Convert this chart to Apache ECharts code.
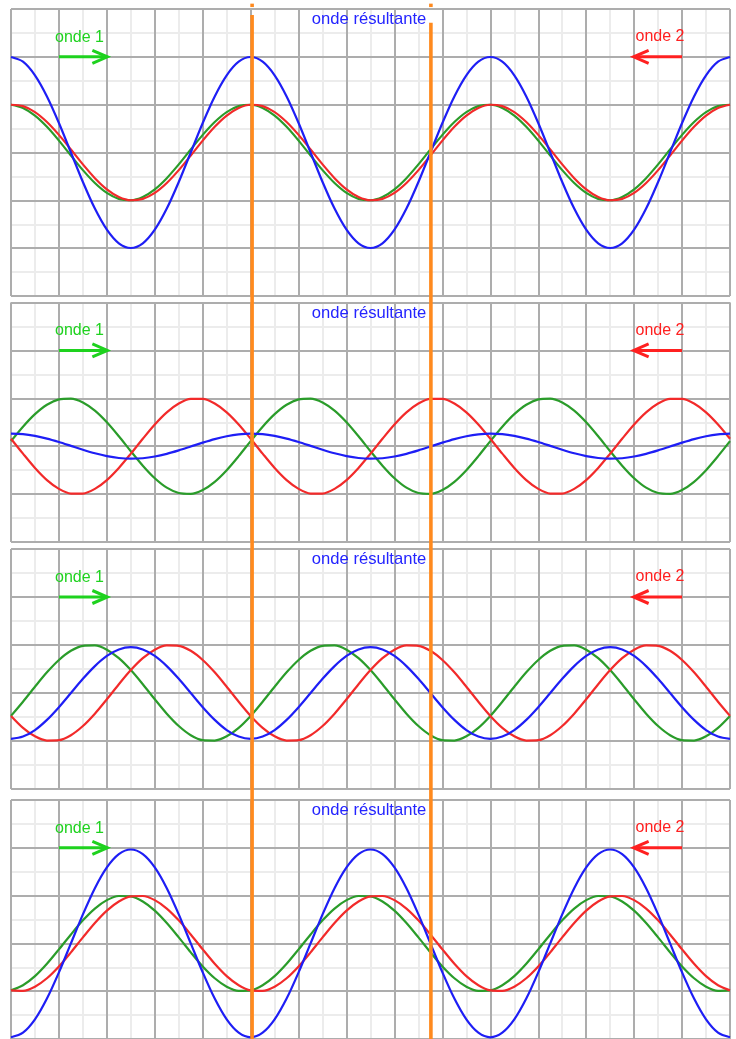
<!DOCTYPE html>
<html>
<head>
<meta charset="utf-8">
<script src="https://cdn.jsdelivr.net/npm/echarts@6/dist/echarts.min.js"></script>
<style>
  html, body { margin: 0; padding: 0; background: #ffffff; }
  #chart { width: 736px; height: 1039px; }
</style>
</head>
<body>
<div id="chart"></div>
<script>
// Abscissae of the sampled wave values, in grid squares (one square = one major cell).
const SAMPLE_X = [
  0, 0.25, 0.5, 0.75, 1, 1.25, 1.5, 1.75, 2, 2.25, 2.5, 2.75, 3, 3.25, 3.5, 3.75,
  4, 4.25, 4.5, 4.75, 5, 5.25, 5.5, 5.75, 6, 6.25, 6.5, 6.75, 7, 7.25, 7.5, 7.75,
  8, 8.25, 8.5, 8.75, 9, 9.25, 9.5, 9.75, 10, 10.25, 10.5, 10.75, 11, 11.25, 11.5, 11.75,
  12, 12.25, 12.5, 12.75, 13, 13.25, 13.5, 13.75, 14, 14.25, 14.5, 14.75, 15];

// Panel 1: the two waves nearly in phase -> large resultant.
const P1_GREEN = [
  0.998, 0.930, 0.770, 0.536, 0.249, -0.063, -0.368, -0.637, -0.844, -0.969,
  -0.998, -0.930, -0.770, -0.536, -0.249, 0.063, 0.368, 0.637, 0.844, 0.969,
  0.998, 0.930, 0.770, 0.536, 0.249, -0.063, -0.368, -0.637, -0.844, -0.969,
  -0.998, -0.930, -0.770, -0.536, -0.249, 0.063, 0.368, 0.637, 0.844, 0.969,
  0.998, 0.930, 0.770, 0.536, 0.249, -0.063, -0.368, -0.637, -0.844, -0.969,
  -0.998, -0.930, -0.770, -0.536, -0.249, 0.063, 0.368, 0.637, 0.844, 0.969, 0.998];
const P1_RED = [
  0.998, 0.969, 0.844, 0.637, 0.368, 0.063, -0.249, -0.536, -0.770, -0.930,
  -0.998, -0.969, -0.844, -0.637, -0.368, -0.063, 0.249, 0.536, 0.770, 0.930,
  0.998, 0.969, 0.844, 0.637, 0.368, 0.063, -0.249, -0.536, -0.770, -0.930,
  -0.998, -0.969, -0.844, -0.637, -0.368, -0.063, 0.249, 0.536, 0.770, 0.930,
  0.998, 0.969, 0.844, 0.637, 0.368, 0.063, -0.249, -0.536, -0.770, -0.930,
  -0.998, -0.969, -0.844, -0.637, -0.368, -0.063, 0.249, 0.536, 0.770, 0.930, 0.998];
const P1_BLUE = [
  1.996, 1.899, 1.614, 1.173, 0.617, 0, -0.617, -1.173, -1.614, -1.899,
  -1.996, -1.899, -1.614, -1.173, -0.617, 0, 0.617, 1.173, 1.614, 1.899,
  1.996, 1.899, 1.614, 1.173, 0.617, 0, -0.617, -1.173, -1.614, -1.899,
  -1.996, -1.899, -1.614, -1.173, -0.617, 0, 0.617, 1.173, 1.614, 1.899,
  1.996, 1.899, 1.614, 1.173, 0.617, 0, -0.617, -1.173, -1.614, -1.899,
  -1.996, -1.899, -1.614, -1.173, -0.617, 0, 0.617, 1.173, 1.614, 1.899, 1.996];

// Panel 2: waves in opposition -> almost flat resultant.
const P2_GREEN = [
  0.105, 0.407, 0.669, 0.866, 0.978, 0.995, 0.914, 0.743, 0.500, 0.208,
  -0.105, -0.407, -0.669, -0.866, -0.978, -0.995, -0.914, -0.743, -0.500, -0.208,
  0.105, 0.407, 0.669, 0.866, 0.978, 0.995, 0.914, 0.743, 0.500, 0.208,
  -0.105, -0.407, -0.669, -0.866, -0.978, -0.995, -0.914, -0.743, -0.500, -0.208,
  0.105, 0.407, 0.669, 0.866, 0.978, 0.995, 0.914, 0.743, 0.500, 0.208,
  -0.105, -0.407, -0.669, -0.866, -0.978, -0.995, -0.914, -0.743, -0.500, -0.208, 0.105];
const P2_RED = [
  0.156, -0.156, -0.454, -0.707, -0.891, -0.988, -0.988, -0.891, -0.707, -0.454,
  -0.156, 0.156, 0.454, 0.707, 0.891, 0.988, 0.988, 0.891, 0.707, 0.454,
  0.156, -0.156, -0.454, -0.707, -0.891, -0.988, -0.988, -0.891, -0.707, -0.454,
  -0.156, 0.156, 0.454, 0.707, 0.891, 0.988, 0.988, 0.891, 0.707, 0.454,
  0.156, -0.156, -0.454, -0.707, -0.891, -0.988, -0.988, -0.891, -0.707, -0.454,
  -0.156, 0.156, 0.454, 0.707, 0.891, 0.988, 0.988, 0.891, 0.707, 0.454, 0.156];
const P2_BLUE = [
  0.261, 0.251, 0.215, 0.159, 0.087, 0.007, -0.074, -0.148, -0.207, -0.246,
  -0.261, -0.251, -0.215, -0.159, -0.087, -0.007, 0.074, 0.148, 0.207, 0.246,
  0.261, 0.251, 0.215, 0.159, 0.087, 0.007, -0.074, -0.148, -0.207, -0.246,
  -0.261, -0.251, -0.215, -0.159, -0.087, -0.007, 0.074, 0.148, 0.207, 0.246,
  0.261, 0.251, 0.215, 0.159, 0.087, 0.007, -0.074, -0.148, -0.207, -0.246,
  -0.261, -0.251, -0.215, -0.159, -0.087, -0.007, 0.074, 0.148, 0.207, 0.246, 0.261];

// Panel 3: intermediate phase difference.
const P3_GREEN = [
  -0.477, -0.182, 0.131, 0.431, 0.688, 0.879, 0.983, 0.991, 0.903, 0.725,
  0.477, 0.182, -0.131, -0.431, -0.688, -0.879, -0.983, -0.991, -0.903, -0.725,
  -0.477, -0.182, 0.131, 0.431, 0.688, 0.879, 0.983, 0.991, 0.903, 0.725,
  0.477, 0.182, -0.131, -0.431, -0.688, -0.879, -0.983, -0.991, -0.903, -0.725,
  -0.477, -0.182, 0.131, 0.431, 0.688, 0.879, 0.983, 0.991, 0.903, 0.725,
  0.477, 0.182, -0.131, -0.431, -0.688, -0.879, -0.983, -0.991, -0.903, -0.725, -0.477];
const P3_RED = [
  -0.477, -0.725, -0.903, -0.991, -0.983, -0.879, -0.688, -0.431, -0.131, 0.182,
  0.477, 0.725, 0.903, 0.991, 0.983, 0.879, 0.688, 0.431, 0.131, -0.182,
  -0.477, -0.725, -0.903, -0.991, -0.983, -0.879, -0.688, -0.431, -0.131, 0.182,
  0.477, 0.725, 0.903, 0.991, 0.983, 0.879, 0.688, 0.431, 0.131, -0.182,
  -0.477, -0.725, -0.903, -0.991, -0.983, -0.879, -0.688, -0.431, -0.131, 0.182,
  0.477, 0.725, 0.903, 0.991, 0.983, 0.879, 0.688, 0.431, 0.131, -0.182, -0.477];
const P3_BLUE = [
  -0.954, -0.907, -0.772, -0.560, -0.295, 0, 0.295, 0.560, 0.772, 0.907,
  0.954, 0.907, 0.772, 0.560, 0.295, 0, -0.295, -0.560, -0.772, -0.907,
  -0.954, -0.907, -0.772, -0.560, -0.295, 0, 0.295, 0.560, 0.772, 0.907,
  0.954, 0.907, 0.772, 0.560, 0.295, 0, -0.295, -0.560, -0.772, -0.907,
  -0.954, -0.907, -0.772, -0.560, -0.295, 0, 0.295, 0.560, 0.772, 0.907,
  0.954, 0.907, 0.772, 0.560, 0.295, 0, -0.295, -0.560, -0.772, -0.907, -0.954];

// Panel 4: back in phase, half a period later.
const P4_GREEN = [
  -0.982, -0.876, -0.685, -0.426, -0.125, 0.187, 0.482, 0.729, 0.905, 0.992,
  0.982, 0.876, 0.685, 0.426, 0.125, -0.187, -0.482, -0.729, -0.905, -0.992,
  -0.982, -0.876, -0.685, -0.426, -0.125, 0.187, 0.482, 0.729, 0.905, 0.992,
  0.982, 0.876, 0.685, 0.426, 0.125, -0.187, -0.482, -0.729, -0.905, -0.992,
  -0.982, -0.876, -0.685, -0.426, -0.125, 0.187, 0.482, 0.729, 0.905, 0.992,
  0.982, 0.876, 0.685, 0.426, 0.125, -0.187, -0.482, -0.729, -0.905, -0.992, -0.982];
const P4_RED = [
  -0.982, -0.992, -0.905, -0.729, -0.482, -0.187, 0.125, 0.426, 0.685, 0.876,
  0.982, 0.992, 0.905, 0.729, 0.482, 0.187, -0.125, -0.426, -0.685, -0.876,
  -0.982, -0.992, -0.905, -0.729, -0.482, -0.187, 0.125, 0.426, 0.685, 0.876,
  0.982, 0.992, 0.905, 0.729, 0.482, 0.187, -0.125, -0.426, -0.685, -0.876,
  -0.982, -0.992, -0.905, -0.729, -0.482, -0.187, 0.125, 0.426, 0.685, 0.876,
  0.982, 0.992, 0.905, 0.729, 0.482, 0.187, -0.125, -0.426, -0.685, -0.876, -0.982];
const P4_BLUE = [
  -1.964, -1.868, -1.590, -1.155, -0.607, 0, 0.607, 1.155, 1.590, 1.868,
  1.964, 1.868, 1.590, 1.155, 0.607, 0, -0.607, -1.155, -1.590, -1.868,
  -1.964, -1.868, -1.590, -1.155, -0.607, 0, 0.607, 1.155, 1.590, 1.868,
  1.964, 1.868, 1.590, 1.155, 0.607, 0, -0.607, -1.155, -1.590, -1.868,
  -1.964, -1.868, -1.590, -1.155, -0.607, 0, 0.607, 1.155, 1.590, 1.868,
  1.964, 1.868, 1.590, 1.155, 0.607, 0, -0.607, -1.155, -1.590, -1.868, -1.964];

// Annotations, in grid squares.
const LABEL_TEXT = ['onde 1', 'onde 2', 'onde résultante'];
const LABEL_X = [1.43, 13.54, 7.47];
const LABEL_Y = [2.41, 2.42, 2.78];
const ARROW_FROM = [1, 14];
const ARROW_TO = [2, 13];
const ARROW_LEVEL = [2, 2];

// Vertical markers (x in grid squares, vertical extent in % of page height).
const MARKER_X = [5.03, 8.76];
const MARKER_TOP = [1.45, 2.2];
const MARKER_CAP_TOP = [0.35, 0.35];
const MARKER_CAP_BOTTOM = [0.68, 0.68];

const PANELS = [
  { green: P1_GREEN, red: P1_RED, blue: P1_BLUE },
  { green: P2_GREEN, red: P2_RED, blue: P2_BLUE },
  { green: P3_GREEN, red: P3_RED, blue: P3_BLUE },
  { green: P4_GREEN, red: P4_RED, blue: P4_BLUE }
];

// ---- styling & layout ----
const LAYOUT = [
  { top: 9, height: 287, min: -3 },
  { top: 302.5, height: 239.5, min: -2 },
  { top: 549, height: 240, min: -2 },
  { top: 800, height: 240, min: -2 }
];
const MAJOR = '#adadad';
const MINOR = '#ececec';
const C_GREEN = '#2a9c2a';
const C_RED = '#f22a2a';
const C_BLUE = '#1e1ef5';
const T_GREEN = '#1ed21e';
const T_RED = '#ff2020';
const T_BLUE = '#2424ff';
const LABEL_COLORS = [T_GREEN, T_RED, T_BLUE];
const LABEL_FONTS = ['16px "Liberation Sans", Arial, sans-serif',
                     '16px "Liberation Sans", Arial, sans-serif',
                     '16.6px "Liberation Sans", Arial, sans-serif'];
const ARROW_COLORS = [T_GREEN, T_RED];
const ORANGE = '#ff8a1e';

const grids = [], xAxes = [], yAxes = [], series = [];

function gridAxis(gridIndex, interval, color, z, extra) {
  return Object.assign({
    type: 'value', gridIndex, interval, z,
    axisLine: { show: false }, axisTick: { show: false }, axisLabel: { show: false },
    splitLine: { show: true, lineStyle: { color, width: 2 } }
  }, extra);
}

LAYOUT.forEach((l, i) => {
  grids.push({ left: 11, width: 719, top: l.top, height: l.height });
  // light half-square lines underneath, darker whole-square lines on top
  const xMinor = xAxes.length;
  xAxes.push(gridAxis(i, 0.5, MINOR, 0, { min: 0, max: 15 }));
  xAxes.push(gridAxis(i, 1, MAJOR, 1, { min: 0, max: 15, position: 'top' }));
  const yMinor = yAxes.length;
  yAxes.push(gridAxis(i, 0.5, MINOR, 0, { min: l.min, max: 3 }));
  yAxes.push(gridAxis(i, 1, MAJOR, 1, { min: l.min, max: 3, position: 'right' }));

  const p = PANELS[i];
  [[p.green, C_GREEN, 'onde 1'], [p.red, C_RED, 'onde 2'], [p.blue, C_BLUE, 'onde résultante']]
    .forEach(([vals, col, name]) => {
      series.push({
        type: 'line', name, xAxisIndex: xMinor, yAxisIndex: yMinor,
        data: SAMPLE_X.map((x, j) => [x, vals[j]]),
        smooth: 0.3, showSymbol: false, silent: true,
        lineStyle: { color: col, width: 2.2 }, itemStyle: { color: col },
        z: 3
      });
    });

  // arrows showing each wave's direction of travel
  series.push({
    type: 'custom', xAxisIndex: xMinor, yAxisIndex: yMinor, silent: true, z: 5,
    data: ARROW_FROM.map((f, k) => [f, ARROW_TO[k], ARROW_LEVEL[k]]),
    renderItem(params, api) {
      const a = api.coord([api.value(0), api.value(2)]);
      const b = api.coord([api.value(1), api.value(2)]);
      const dir = Math.sign(b[0] - a[0]);
      const hl = 14.5, hw = 6.5;
      const col = ARROW_COLORS[params.dataIndex];
      return {
        type: 'group',
        children: [
          { type: 'line', shape: { x1: a[0], y1: a[1], x2: b[0], y2: b[1] },
            style: { stroke: col, lineWidth: 3 } },
          { type: 'polyline',
            shape: { points: [[b[0] - dir * hl, b[1] - hw], [b[0] + dir * 0.5, b[1]], [b[0] - dir * hl, b[1] + hw]] },
            style: { stroke: col, lineWidth: 3, fill: null, lineJoin: 'miter' } }
        ]
      };
    }
  });

  // text labels
  series.push({
    type: 'custom', xAxisIndex: xMinor, yAxisIndex: yMinor, silent: true, z: 6,
    data: LABEL_X.map((x, k) => [x, LABEL_Y[k]]),
    renderItem(params, api) {
      const c = api.coord([api.value(0), api.value(1)]);
      const k = params.dataIndex;
      return {
        type: 'text', x: c[0], y: c[1],
        style: { text: LABEL_TEXT[k], fill: LABEL_COLORS[k], font: LABEL_FONTS[k],
                 align: 'center', verticalAlign: 'middle' }
      };
    }
  });
});

// overlay spanning the whole page for the vertical markers
grids.push({ left: 11, width: 719, top: 0, height: 1039 });
const xOverlay = xAxes.length, yOverlay = yAxes.length;
xAxes.push({ type: 'value', gridIndex: 4, min: 0, max: 15, show: false });
yAxes.push({ type: 'value', gridIndex: 4, min: 0, max: 100, inverse: true, show: false });
const markerSegments = [];
MARKER_X.forEach((x, k) => {
  markerSegments.push([x, MARKER_TOP[k], 100]);
  markerSegments.push([x, MARKER_CAP_TOP[k], MARKER_CAP_BOTTOM[k]]);
});
series.push({
  type: 'custom', xAxisIndex: xOverlay, yAxisIndex: yOverlay, silent: true, z: 10, clip: false,
  data: markerSegments,
  renderItem(params, api) {
    const a = api.coord([api.value(0), api.value(1)]);
    const b = api.coord([api.value(0), api.value(2)]);
    return { type: 'line', shape: { x1: a[0], y1: a[1], x2: b[0], y2: b[1] },
             style: { stroke: ORANGE, lineWidth: 3.6 } };
  }
});

const chart = echarts.init(document.getElementById('chart'), null, { renderer: 'canvas' });
chart.setOption({
  animation: false,
  backgroundColor: '#ffffff',
  grid: grids, xAxis: xAxes, yAxis: yAxes, series
});
</script>
</body>
</html>
